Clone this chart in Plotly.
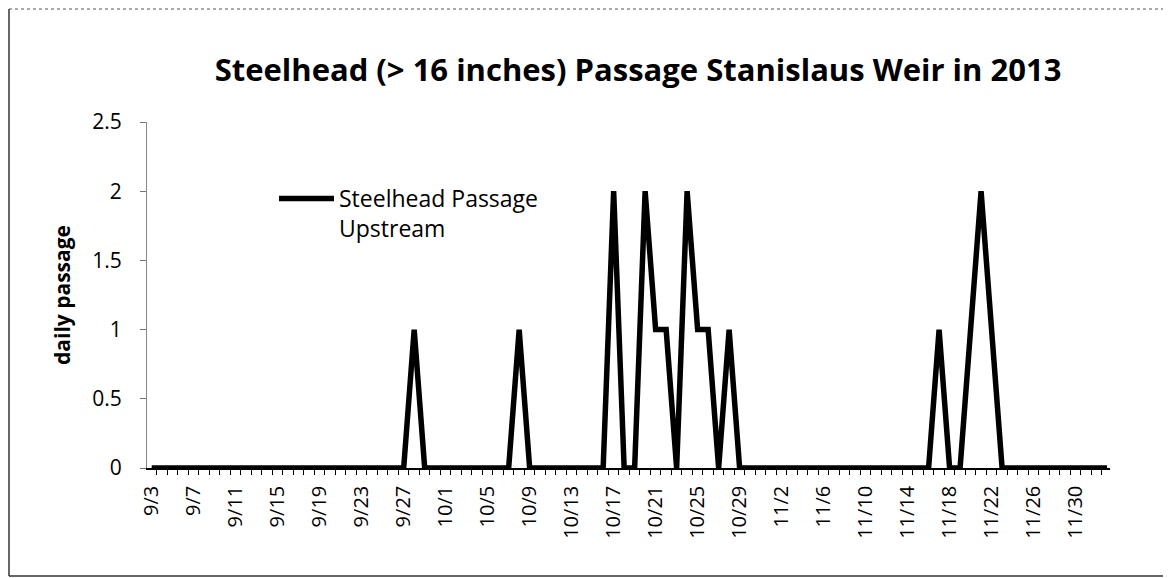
import plotly.graph_objects as go
import pandas as pd

# ---- data (daily upstream passage, 9/3/2013 .. 12/3/2013) ----
start_date = "2013-09-03"
passage_upstream = [
    # 9/3 - 9/27
    0, 0, 0, 0, 0, 0, 0, 0, 0, 0, 0, 0, 0, 0, 0, 0, 0, 0, 0, 0, 0, 0, 0, 0, 0,
    # 9/28 - 10/8
    1, 0, 0, 0, 0, 0, 0, 0, 0, 0, 1,
    # 10/9 - 10/16
    0, 0, 0, 0, 0, 0, 0, 0,
    # 10/17 - 10/29
    2, 0, 0, 2, 1, 1, 0, 2, 1, 1, 0, 1, 0,
    # 10/30 - 11/16
    0, 0, 0, 0, 0, 0, 0, 0, 0, 0, 0, 0, 0, 0, 0, 0, 0, 0,
    # 11/17 - 11/23
    1, 0, 0, 1, 2, 1, 0,
    # 11/24 - 12/3
    0, 0, 0, 0, 0, 0, 0, 0, 0, 0,
]
dates = pd.date_range(start_date, periods=len(passage_upstream), freq="D")
series_name = "Steelhead Passage<br>Upstream"
title_text = "Steelhead (> 16 inches) Passage Stanislaus Weir in 2013"
y_title = "daily passage"
y_ticks = [0, 0.5, 1, 1.5, 2, 2.5]

# ---- layout geometry (page body adds an 8px offset) ----
OFF = 8
W, H = 1171 - OFF, 578 - OFF
PL, PR, PT, PB = 147, 1110, 122, 468          # plot area in screen pixels
L, T = PL - OFF, PT - OFF
R, B = W - (PR - OFF), H - (PB - OFF)
PW, PH = W - L - R, H - T - B

def px_x(px):
    return (px - OFF - L) / PW

def px_y(py):
    return (H - B - (py - OFF)) / PH

FONT = "Open Sans"

fig = go.Figure()
fig.add_trace(go.Scatter(
    x=dates, y=passage_upstream, mode="lines", name=series_name,
    line=dict(color="black", width=5.5), showlegend=True,
))

day = pd.Timedelta(days=1)
border = dict(color="#333", width=1.5)
fig.update_layout(
    width=W, height=H,
    margin=dict(l=L, r=R, t=T, b=B),
    paper_bgcolor="white", plot_bgcolor="white",
    font=dict(family=FONT, color="black"),
    title=dict(text=title_text, x=(638 - OFF) / W, xanchor="center", xref="container",
               y=1 - (70 - OFF) / H, yanchor="middle",
               font=dict(family=FONT, size=31, weight=700, color="black")),
    showlegend=True,
    legend=dict(x=px_x(274), y=px_y(177), xanchor="left", yanchor="top",
                bgcolor="rgba(0,0,0,0)", valign="top", itemwidth=55,
                font=dict(family=FONT, size=23, color="black")),
    xaxis=dict(
        type="date",
        range=[dates[0] - 0.45 * day, dates[-1] + 0.28 * day],
        tickformat="%-m/%-d", tick0=start_date, dtick=4 * 86400000,
        tickangle=-90, ticks="", ticklabelstandoff=8,
        tickfont=dict(family=FONT, size=20, color="black"),
        showline=True, linecolor="black", linewidth=1.5,
        showgrid=False, zeroline=False,
        minor=dict(ticks="outside", ticklen=5, tickcolor="black", tickwidth=1,
                   tick0=dates[0] + 0.5 * day, dtick=86400000, showgrid=False),
    ),
    yaxis=dict(
        range=[0, 2.5], tickvals=y_ticks, ticktext=[f"{v:g}" for v in y_ticks],
        ticks="outside", ticklen=6, tickcolor="#777", tickwidth=1,
        ticklabelstandoff=14,
        tickfont=dict(family=FONT, size=21, color="black"),
        showline=True, linecolor="#888", linewidth=1,
        showgrid=False, zeroline=False,
    ),
    annotations=[dict(
        text=f"<b>{y_title}</b>", xref="paper", yref="paper",
        x=px_x(62), y=0.5, xanchor="center", yanchor="middle",
        textangle=-90, showarrow=False,
        font=dict(family=FONT, size=21, color="black"),
    )],
    shapes=[
        dict(type="line", xref="paper", yref="paper",
             x0=px_x(9), x1=px_x(9), y0=px_y(576), y1=px_y(9), line=border),
        dict(type="line", xref="paper", yref="paper",
             x0=px_x(9), x1=px_x(1171), y0=px_y(9), y1=px_y(9),
             line=dict(color="#555", width=1, dash="dot")),
        dict(type="line", xref="paper", yref="paper",
             x0=px_x(9), x1=px_x(1171), y0=px_y(576), y1=px_y(576), line=border),
    ],
)

fig.write_html("out.html")
